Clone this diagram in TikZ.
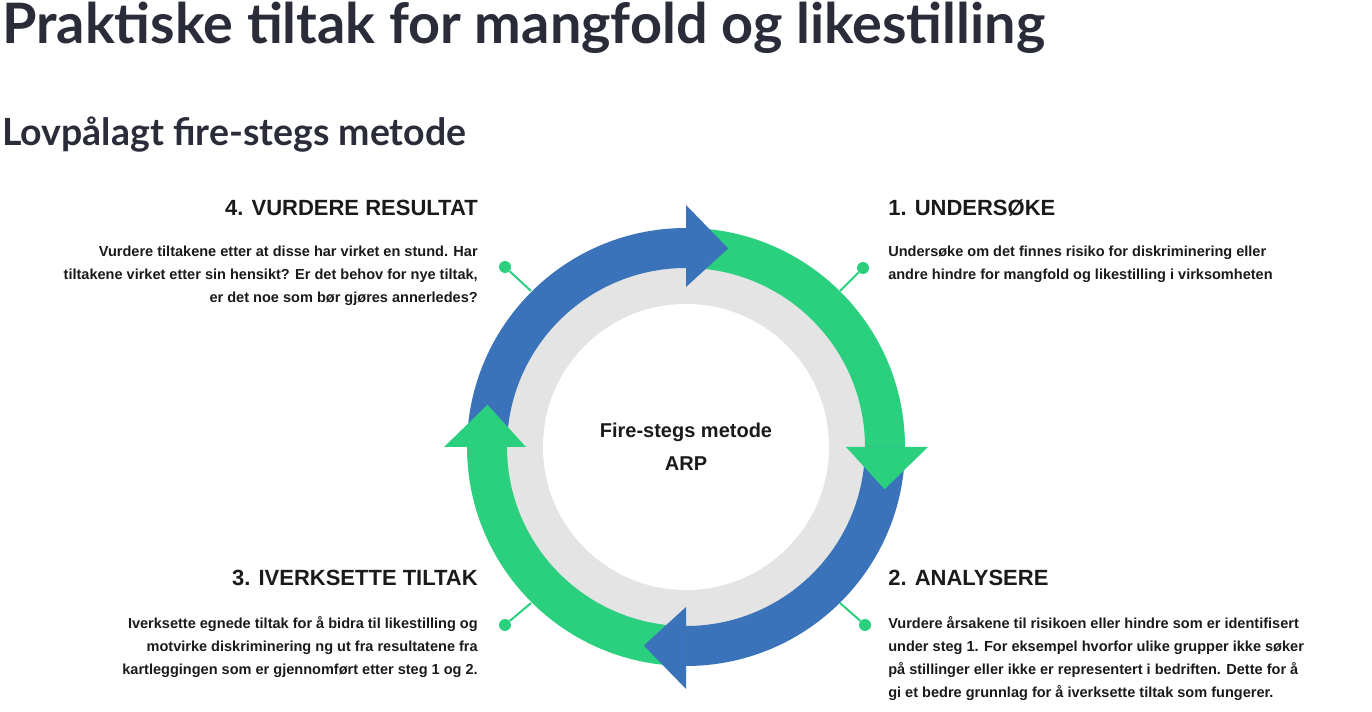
\documentclass[tikz,border=0pt]{standalone}
\usepackage{fontspec}
\usetikzlibrary{calc}
\setmainfont{Liberation Sans}
\newfontfamily\titlefont{Lato}
\definecolor{cblue}{HTML}{3A73B9}
\definecolor{cgreen}{HTML}{2BD07F}
\definecolor{cgray}{HTML}{E4E4E4}
\definecolor{ctitle}{HTML}{2B2C3A}
\definecolor{ctext}{HTML}{1A1A1A}
\begin{document}
\begin{tikzpicture}[x=0.75pt,y=-0.75pt,
  head/.style={font=\bfseries\fontsize{16.5}{19}\selectfont,text=ctext,inner sep=0},
  bodyl/.style={font=\bfseries\fontsize{10.9}{17.25}\selectfont,text=ctext,inner sep=0,align=left},
  bodyr/.style={font=\bfseries\fontsize{10.9}{17.25}\selectfont,text=ctext,inner sep=0,align=right},
  conn/.style={cgreen,line width=1.5pt},
  dot/.style={circle,fill=cgreen,minimum size=9pt,inner sep=0}]
\useasboundingbox (0,0) rectangle (1372,712);
\node[anchor=west,inner sep=0,text=ctitle] (title) at (2,28) {\resizebox{782pt}{!}{\titlefont\bfseries Praktiske tiltak for mangfold og likestilling}};
\node[anchor=west,inner sep=0,text=ctitle] (sub) at (2,135) {\resizebox{348pt}{!}{\titlefont\bfseries Lovpålagt fire-stegs metode}};
% circle
\coordinate (c) at (686,447);
\fill[cgray] (c) circle[radius=181*0.75pt];
\fill[white] (c) circle[radius=143*0.75pt];
\node[font=\bfseries\fontsize{15}{25}\selectfont,text=ctext,align=center] (center) at (686,447) {Fire-stegs metode\\ARP};
% ring bodies
\foreach \a/\col in {90/cgreen,0/cblue,-90/cgreen,180/cblue}{
  \fill[\col] ($(c)+(\a:219*0.75pt)$) arc[start angle=\a,end angle=\a-90,radius=219*0.75pt]
    -- ($(c)+(\a-90:179*0.75pt)$) arc[start angle=\a-90,end angle=\a,radius=179*0.75pt] -- cycle;
}
% heads
\foreach \a/\col in {90/cblue,0/cgreen,-90/cblue,180/cgreen}{
  \fill[\col] ($(c)+(\a:160*0.75pt)$) -- ($(c)+(\a:242*0.75pt)$) -- ($(c)+(\a-12:203*0.75pt)$) -- cycle;
}
% connectors
\node[dot] (d4) at (505,267) {}; \coordinate (e4) at (531,291);
\node[dot] (d1) at (863,268) {}; \coordinate (e1) at (840,291);
\node[dot] (d3) at (505,625) {}; \coordinate (e3) at (531,603);
\node[dot] (d2) at (865,625) {}; \coordinate (e2) at (840,603);
\draw[conn] (d4) -- (e4); \draw[conn] (d1) -- (e1);
\draw[conn] (d3) -- (e3); \draw[conn] (d2) -- (e2);
% texts
\node[head,anchor=east] (h4) at (478,208) {4. VURDERE RESULTAT};
\node[head,anchor=west] (h1) at (888,208) {1. UNDERSØKE};
\node[head,anchor=east] (h3) at (478,578) {3. IVERKSETTE TILTAK};
\node[head,anchor=west] (h2) at (888,578) {2. ANALYSERE};
\node[bodyr,anchor=north east] (b4) at (478,246) {Vurdere tiltakene etter at disse har virket en stund. Har\\tiltakene virket etter sin hensikt? Er det behov for nye tiltak,\\er det noe som bør gjøres annerledes?};
\node[bodyl,anchor=north west] (b1) at (888,246) {Undersøke om det finnes risiko for diskriminering eller\\andre hindre for mangfold og likestilling i virksomheten};
\node[bodyr,anchor=north east] (b3) at (478,616) {Iverksette egnede tiltak for å bidra til likestilling og\\motvirke diskriminering ng ut fra resultatene fra\\kartleggingen som er gjennomført etter steg 1 og 2.};
\node[bodyl,anchor=north west] (b2) at (888,616) {Vurdere årsakene til risikoen eller hindre som er identifisert\\under steg 1. For eksempel hvorfor ulike grupper ikke søker\\på stillinger eller ikke er representert i bedriften. Dette for å\\gi et bedre grunnlag for å iverksette tiltak som fungerer.};
\end{tikzpicture}
\end{document}
